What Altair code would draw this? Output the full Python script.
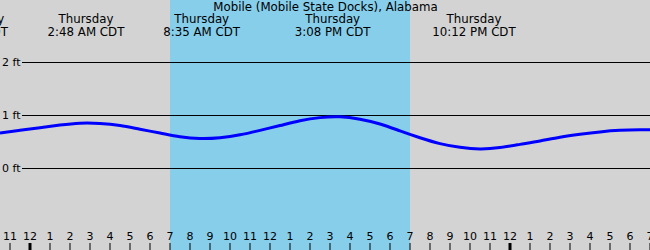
import altair as alt
import pandas as pd

# ---- data (hours counted from Wednesday 00:00 local time) ----
curve_hours = [22.5, 23.5, 24.5, 25.5, 26.5, 27.5, 28.5, 29.5, 30.5, 31.5, 32.5,
               33.5, 34.5, 35.5, 36.5, 37.5, 38.5, 39.5, 40.5, 41.5, 42.5, 43.5, 44.5,
               45.5, 46.5, 47.5, 48.5, 49.5, 50.5, 51.5, 52.5, 53.5, 54.5, 55.0]
curve_feet = [0.67, 0.72, 0.77, 0.82, 0.855, 0.85, 0.81, 0.74, 0.67, 0.60, 0.565,
              0.58, 0.635, 0.72, 0.81, 0.90, 0.96, 0.975, 0.93, 0.84, 0.71, 0.58, 0.47,
              0.40, 0.37, 0.395, 0.455, 0.52, 0.59, 0.645, 0.69, 0.72, 0.73, 0.73]

event_hours = [21.0, 26.8, 32.583, 39.133, 46.2]
event_days = ["Wednesday", "Thursday", "Thursday", "Thursday", "Thursday"]
event_times = ["9:00 PM CDT", "2:48 AM CDT", "8:35 AM CDT", "3:08 PM CDT", "10:12 PM CDT"]

day_start = [31.0]
day_end = [43.0]

grid_feet = [0, 1, 2]
grid_labels = ["0 ft", "1 ft", "2 ft"]

tick_hours = list(range(23, 56))
tick_labels = ["11", "12", "1", "2", "3", "4", "5", "6", "7", "8", "9", "10", "11",
               "12", "1", "2", "3", "4", "5", "6", "7", "8", "9", "10", "11",
               "12", "1", "2", "3", "4", "5", "6", "7"]
tick_midnight = [h % 24 == 0 for h in tick_hours]

title_text = "Mobile (Mobile State Docks), Alabama"

# ---- scales ----
FONT = "DejaVu Sans"
xs = alt.Scale(domain=[22.5, 55.0], range=[0, 650], nice=False, zero=False)
ys = alt.Scale(domain=[-81.5 / 53.0, 168.5 / 53.0], range=[250, 0], nice=False, zero=False)

curve_df = pd.DataFrame({"h": curve_hours, "ft": curve_feet})
event_df = pd.DataFrame({"h": event_hours, "day": event_days, "time": event_times})
day_df = pd.DataFrame({"s": day_start, "e": day_end})
grid_df = pd.DataFrame({"ft": grid_feet, "lab": grid_labels})
tick_df = pd.DataFrame({"h": tick_hours, "lab": tick_labels, "mid": tick_midnight})

daylight = alt.Chart(day_df).mark_rect(color="#87CEEB", clip=True).encode(
    x=alt.X("s:Q", scale=xs, axis=None),
    x2="e:Q",
    y=alt.value(0),
    y2=alt.value(250),
)

grid = alt.Chart(grid_df).mark_rule(color="black", strokeWidth=1).encode(
    x=alt.value(22),
    x2=alt.value(650),
    y=alt.Y("ft:Q", scale=ys, axis=None),
)

grid_text = alt.Chart(grid_df).mark_text(
    font=FONT, fontSize=11, align="left", baseline="middle", color="black"
).encode(
    x=alt.value(2),
    y=alt.Y("ft:Q", scale=ys, axis=None),
    text="lab:N",
)

line = alt.Chart(curve_df).mark_line(
    color="#0000FF", strokeWidth=3, interpolate="natural", clip=True
).encode(
    x=alt.X("h:Q", scale=xs, axis=None),
    y=alt.Y("ft:Q", scale=ys, axis=None),
)

title = alt.Chart(pd.DataFrame({"t": [title_text]})).mark_text(
    font=FONT, fontSize=11.8, align="center", baseline="alphabetic", color="black"
).encode(x=alt.value(325.5), y=alt.value(11), text="t:N")

ev_day = alt.Chart(event_df).mark_text(
    font=FONT, fontSize=11.8, align="center", baseline="alphabetic", color="black"
).encode(x=alt.X("h:Q", scale=xs, axis=None), y=alt.value(23), text="day:N")

ev_time = alt.Chart(event_df).mark_text(
    font=FONT, fontSize=11.8, align="center", baseline="alphabetic", color="black"
).encode(x=alt.X("h:Q", scale=xs, axis=None), y=alt.value(36), text="time:N")

tick_text = alt.Chart(tick_df).mark_text(
    font=FONT, fontSize=11, align="center", baseline="alphabetic", color="black"
).encode(x=alt.X("h:Q", scale=xs, axis=None), y=alt.value(240), text="lab:N")

ticks = alt.Chart(tick_df).mark_rule(color="black").encode(
    x=alt.X("h:Q", scale=xs, axis=None),
    y=alt.value(243),
    y2=alt.value(250),
    strokeWidth=alt.condition("datum.mid", alt.value(3), alt.value(1)),
)

chart = alt.layer(
    daylight, grid, grid_text, line, title, ev_day, ev_time, tick_text, ticks
).properties(
    width=650, height=250, padding=0,
    autosize=alt.AutoSizeParams(type="none"),
    background="#D3D3D3",
).configure_view(stroke=None)

chart.save("out.html", embed_options={"renderer": "svg", "actions": False})
